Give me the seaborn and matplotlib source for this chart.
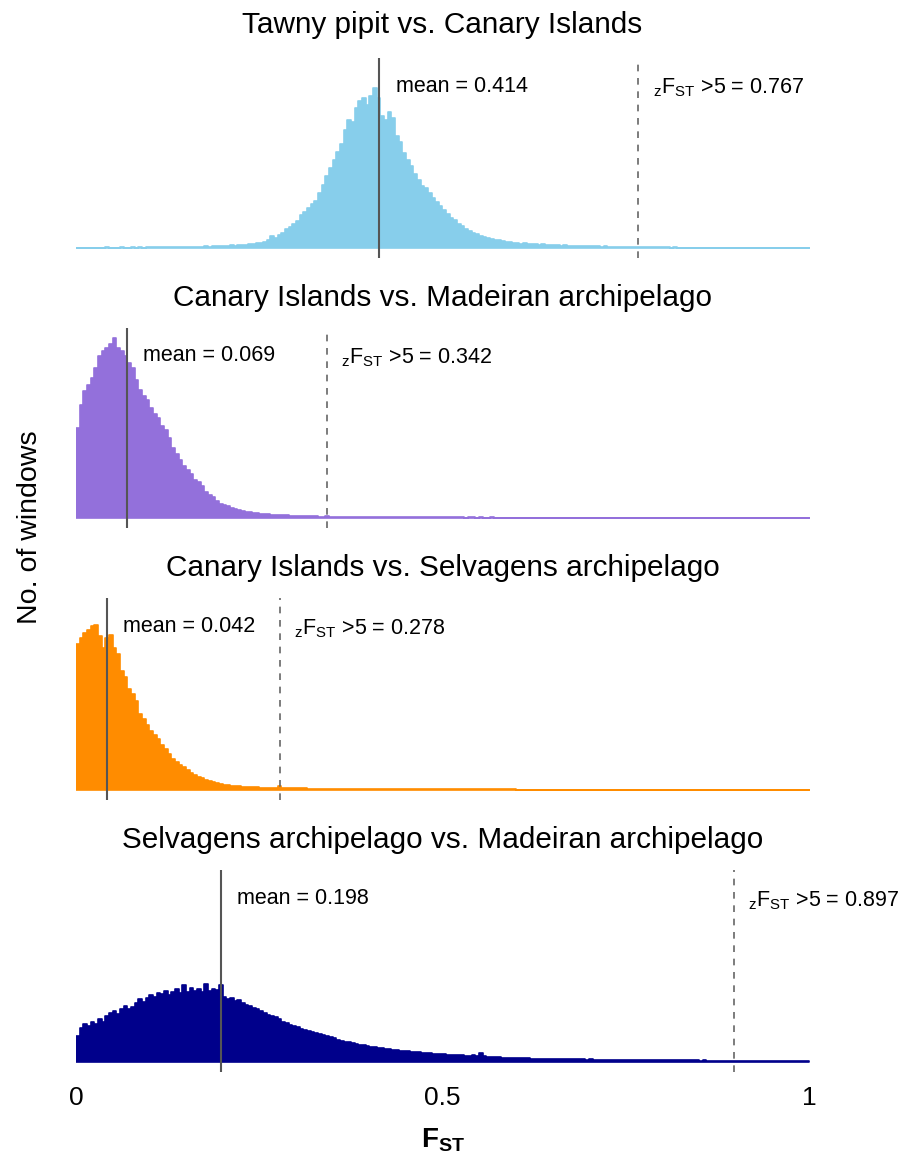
import numpy as np
import pandas as pd
import seaborn as sns
import matplotlib.pyplot as plt

sns.set_style("white")
plt.rcParams['font.family'] = ['Liberation Sans', 'DejaVu Sans']
plt.rcParams['text.color'] = 'black'
plt.rcParams['xtick.color'] = 'black'
plt.rcParams['mathtext.fontset'] = 'custom'
plt.rcParams['mathtext.rm'] = 'Liberation Sans'
plt.rcParams['mathtext.it'] = 'Liberation Sans'
plt.rcParams['mathtext.bf'] = 'Liberation Sans:bold'

# FST bins, width 0.005
bin_width = 0.005
bin_edges = np.round(np.arange(0, 1.0001, bin_width), 3)

titles = ["Tawny pipit vs. Canary Islands",
          "Canary Islands vs. Madeiran archipelago",
          "Canary Islands vs. Selvagens archipelago",
          "Selvagens archipelago vs. Madeiran archipelago"]
colors = ["#87CEEB", "#9370DB", "#FF8C00", "#00008B"]
means = [0.414, 0.069, 0.042, 0.198]
zfst5 = [0.767, 0.342, 0.278, 0.897]

# window counts per bin (relative)
counts_tawny_canary = [
    0.5, 0.5, 0.3, 0.5, 0.4, 0.5, 0.3, 0.5, 0.6, 0.4, 0.5, 0.4, 0.6, 0.5, 0.5, 0.7, 0.5, 0.6, 0.5, 0.7,
    0.6, 0.8, 0.7, 0.9, 0.8, 1.0, 0.9, 1.1, 1.0, 1.2, 1.1, 1.3, 1.2, 1.4, 1.3, 1.6, 1.5, 1.8, 1.6, 2.0,
    2.2, 2.0, 2.8, 2.4, 3.0, 3.5, 3.2, 4.5, 4.0, 5.5, 4.8, 6.5, 8, 12, 10, 13, 15, 19, 21, 24,
    27, 33, 36, 40, 44, 47, 55, 63, 72, 80, 88, 96, 104, 118, 128, 126, 140, 147, 150, 143,
    152, 160, 150, 132, 128, 136, 130, 112, 106, 95, 88, 82, 74, 68, 62, 60, 55, 50, 46, 42,
    38, 34, 30, 28, 24, 22, 19, 17, 15, 14, 12, 11, 10, 9, 8, 8, 7, 6, 6, 5,
    5, 4.5, 5, 4, 4, 4.5, 3.5, 4, 3.5, 3, 3.5, 3, 2.5, 3, 2.5, 2.5, 2, 2.5, 2, 2,
    2, 1.8, 1.8, 1.5, 1.6, 1.4, 1.5, 1.2, 1.3, 1.0, 1.2, 1.0, 0.9, 1.0, 0.8, 0.9, 0.7, 0.8, 0.6, 0.7,
    0.6, 0.6, 0.5, 0.6, 0.5, 0.5, 0.5, 0.4, 0.5, 0.4, 0.4, 0.4, 0.4, 0.3, 0.4, 0.3, 0.3, 0.3, 0.3, 0.3,
    0.3, 0.3, 0.2, 0.3, 0.2, 0.3, 0.2, 0.2, 0.3, 0.2, 0.2, 0.2, 0.2, 0.2, 0.2, 0.2, 0.2, 0.2, 0.2, 0.2,
]
counts_canary_madeira = [
    90, 113, 127, 133, 140, 150, 162, 167, 170, 174, 180, 170, 167, 162, 155, 150, 138, 128, 122, 118,
    110, 104, 100, 92, 88, 80, 70, 64, 58, 52, 48, 44, 38, 36, 32, 26, 23, 21, 17, 14,
    13, 12, 10, 9, 8, 7, 6, 5.5, 5, 4.5, 4, 3.5, 3.5, 3, 3, 2.8, 2.5, 2.5, 2.2, 2,
    2, 1.8, 1.8, 1.6, 1.5, 1.6, 1.4, 1.3, 1.5, 1.2, 1.2, 1.1, 1.0, 1.1, 1.0, 0.9, 1.0, 0.9, 0.8, 0.9,
    0.9, 0.8, 0.8, 0.9, 0.7, 0.8, 0.7, 0.7, 0.8, 0.6, 0.7, 0.6, 0.7, 0.6, 0.6, 0.6, 0.5, 0.6, 0.5, 0.6,
    0.5, 0.5, 0.6, 0.5, 0.5, 0.5, 0.4, 0.5, 0.5, 0.4, 0.5, 0.4, 0.4, 0.5, 0.4, 0.4, 0.4, 0.4, 0.4, 0.4,
    0.4, 0.4, 0.3, 0.4, 0.4, 0.3, 0.4, 0.3, 0.3, 0.4, 0.3, 0.3, 0.3, 0.3, 0.3, 0.3, 0.3, 0.3, 0.3, 0.3,
    0.3, 0.3, 0.3, 0.3, 0.3, 0.3, 0.3, 0.3, 0.3, 0.3, 0.3, 0.3, 0.3, 0.3, 0.3, 0.3, 0.3, 0.3, 0.3, 0.3,
    0.3, 0.3, 0.3, 0.3, 0.3, 0.3, 0.3, 0.3, 0.3, 0.3, 0.3, 0.3, 0.3, 0.3, 0.3, 0.3, 0.3, 0.3, 0.3, 0.3,
    0.3, 0.3, 0.3, 0.3, 0.3, 0.3, 0.3, 0.3, 0.3, 0.3, 0.3, 0.3, 0.3, 0.3, 0.3, 0.3, 0.3, 0.3, 0.3, 0.3,
]
counts_canary_selvagens = [
    144, 150, 155, 158, 162, 163, 152, 140, 150, 153, 140, 135, 118, 112, 100, 95, 88, 75, 70, 64,
    58, 54, 50, 44, 40, 36, 31, 28, 25, 23, 20, 17, 15, 13, 12, 10, 9, 8, 7, 6,
    5, 4.5, 4, 4, 3.5, 3, 2.8, 2.6, 2.5, 2.4, 2.3, 2.2, 2.1, 2.0, 2.0, 4, 1.8, 1.7, 1.6, 1.5,
    1.5, 1.4, 1.4, 1.3, 1.3, 1.2, 1.2, 1.1, 1.1, 1.0, 1.0, 1.0, 0.9, 0.9, 0.9, 0.8, 0.8, 0.8, 0.8, 0.7,
    0.7, 0.7, 0.7, 0.6, 0.7, 0.6, 0.6, 0.6, 0.6, 0.5, 0.6, 0.5, 0.5, 0.5, 0.5, 0.5, 0.5, 0.5, 0.4, 0.5,
    0.4, 0.4, 0.4, 0.4, 0.4, 0.4, 0.4, 0.4, 0.4, 0.4, 0.4, 0.4, 0.4, 0.4, 0.4, 0.4, 0.4, 0.4, 0.4, 0.4,
    0.3, 0.3, 0.3, 0.3, 0.3, 0.3, 0.3, 0.3, 0.3, 0.3, 0.3, 0.3, 0.3, 0.3, 0.3, 0.3, 0.3, 0.3, 0.3, 0.3,
    0.3, 0.3, 0.3, 0.3, 0.3, 0.3, 0.3, 0.3, 0.3, 0.3, 0.3, 0.3, 0.3, 0.3, 0.3, 0.3, 0.3, 0.3, 0.3, 0.3,
    0.3, 0.3, 0.3, 0.3, 0.3, 0.3, 0.3, 0.3, 0.3, 0.3, 0.3, 0.3, 0.3, 0.3, 0.3, 0.3, 0.3, 0.3, 0.3, 0.3,
    0.3, 0.3, 0.3, 0.3, 0.3, 0.3, 0.3, 0.3, 0.3, 0.3, 0.3, 0.3, 0.3, 0.3, 0.3, 0.3, 0.3, 0.3, 0.3, 0.3,
]
counts_selvagens_madeira = [
    26, 34, 38, 36, 40, 38, 42, 40, 45, 48, 50, 47, 52, 55, 52, 54, 58, 62, 59, 63,
    66, 64, 68, 67, 70, 66, 69, 72, 68, 76, 69, 73, 70, 72, 69, 77, 70, 72, 71, 76,
    64, 62, 63, 60, 61, 58, 56, 55, 53, 52, 50, 48, 46, 45, 44, 42, 40, 39, 37, 36,
    35, 33, 32, 31, 30, 29, 28, 27, 26, 25, 24, 22, 21, 20, 20, 19, 18, 17, 17, 16,
    15, 15, 14, 14, 13, 13, 12, 12, 11, 11, 10.5, 10, 10, 9.5, 9, 9, 8.5, 8, 8, 7.5,
    7.5, 7, 7, 6.5, 6.5, 7, 6, 6, 6.5, 5.5, 9, 6, 5, 5, 4.5, 4.5, 4, 4.2, 4, 3.8,
    3.8, 3.5, 3.6, 3.4, 3.3, 3.2, 3.3, 3, 3, 2.9, 3, 2.8, 2.7, 2.8, 2.6, 2.5, 2.6, 2.4, 2.5, 2.3,
    2.4, 2.3, 2.2, 2.3, 2.1, 2.2, 2, 2.1, 2, 1.9, 2, 1.9, 1.8, 1.9, 1.8, 1.7, 1.8, 1.7, 1.6, 1.7,
    1.6, 1.7, 1.5, 1.6, 1.5, 1.5, 1.4, 1.5, 1.4, 1.4, 1.3, 1.4, 1.3, 1.3, 1.2, 1.3, 1.2, 1.2, 1.1, 1.2,
    1.1, 1.2, 1.1, 1.0, 1.1, 1.0, 1.0, 1.1, 1.0, 0.9, 1.0, 0.9, 0.9, 1.0, 0.9, 0.8, 0.9, 0.8, 0.8, 0.8,
]
all_counts = [counts_tawny_canary, counts_canary_madeira,
              counts_canary_selvagens, counts_selvagens_madeira]

W, H = 912, 1155
fig = plt.figure(figsize=(W / 100, H / 100), dpi=100)

# panel pixel boxes (top, bottom) and title centre y
boxes = [(58, 258), (328, 528), (598, 800), (870, 1072)]
title_y = [25, 298, 568, 840]
x0, x1 = 76, 809

centers = (bin_edges[:-1] + bin_edges[1:]) / 2

for i in range(4):
    top, bot = boxes[i]
    ax = fig.add_axes([x0 / W, 1 - bot / H, (x1 - x0) / W, (bot - top) / H])
    df = pd.DataFrame({"fst": centers, "n": all_counts[i]})
    sns.histplot(data=df, x="fst", weights="n", binwidth=bin_width,
                 binrange=(0, 1), ax=ax,
                 element="step", fill=True, color=colors[i], alpha=1,
                 linewidth=1.2, edgecolor=colors[i])
    ax.axvline(means[i], color="#555555", lw=1.5)
    ax.axvline(zfst5[i], color="#666666", lw=1.2, ls=(0, (4, 4)))
    ax.set_xlim(0, 1)
    ax.set_ylim(-10, 190)
    ax.text(means[i] + 0.022, 162, "mean = %.3f" % means[i], fontsize=15.5,
            va="center", ha="left")
    ax.text(zfst5[i] + 0.02, 160,
            r"${}_{\mathrm{z}}\mathrm{F}_{\mathrm{ST}}$ >5 = %.3f" % zfst5[i],
            fontsize=15.5, va="center", ha="left", clip_on=False)
    sns.despine(ax=ax, left=True, bottom=True)
    ax.set_yticks([])
    ax.set_xlabel("")
    ax.set_ylabel("")
    if i < 3:
        ax.set_xticks([])
    else:
        ax.set_xticks([0, 0.5, 1])
        ax.set_xticklabels(["0", "0.5", "1"])
        ax.tick_params(axis="x", length=0, pad=10, labelsize=19)
    fig.text((x0 + x1) / 2 / W, 1 - title_y[i] / H, titles[i], fontsize=21.4,
             ha="center", va="center")

fig.text(30 / W, 1 - 527 / H, "No. of windows", rotation=90, fontsize=20.5,
         ha="center", va="center")
fig.text((x0 + x1) / 2 / W, 1 - 1140 / H, r"$\mathbf{F}_{\mathbf{ST}}$",
         fontsize=20, ha="center", va="center")

fig.savefig("out.png", dpi=100)
